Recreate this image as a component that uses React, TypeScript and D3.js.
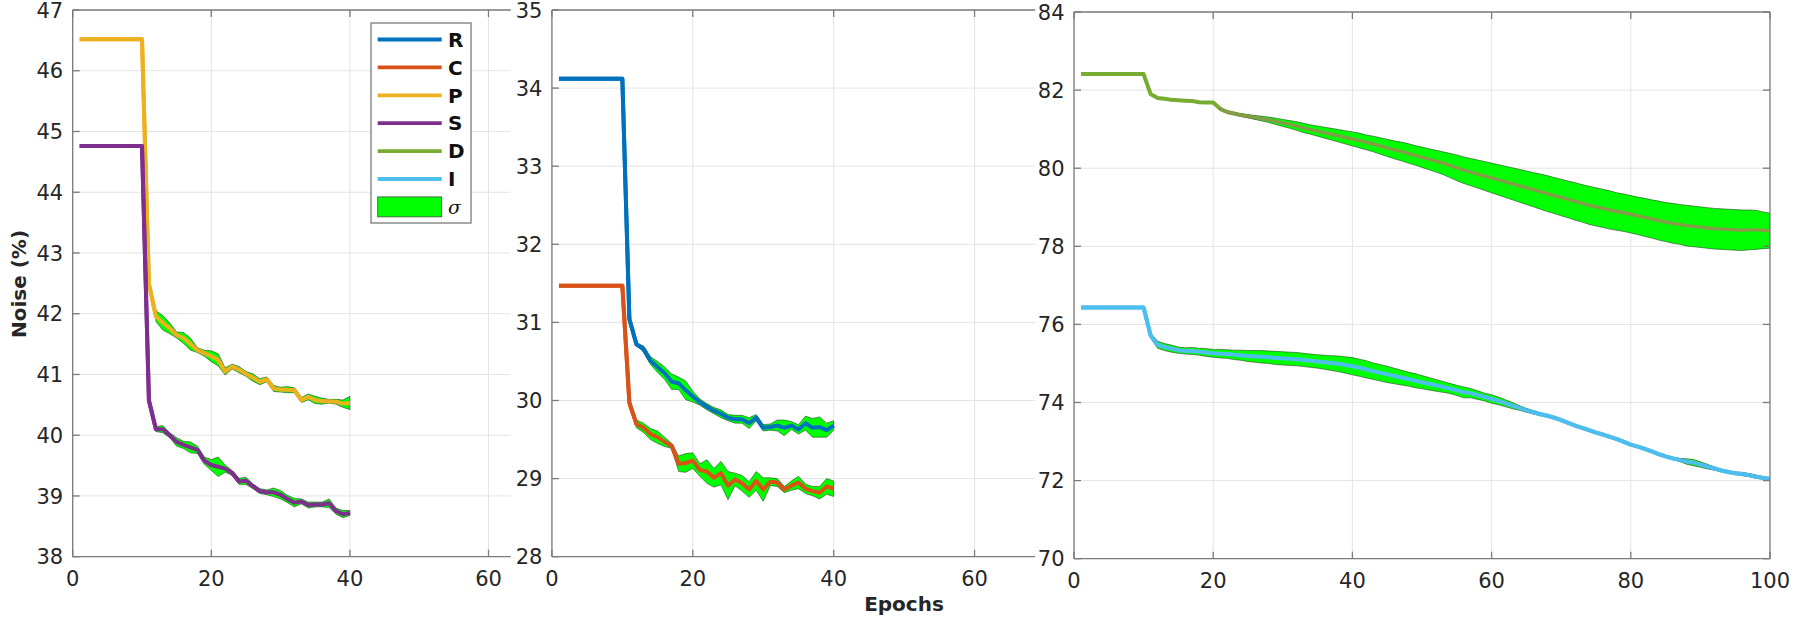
import * as React from "react";
import * as d3 from "d3";

// ---- data ----
const seriesKeys = ["R", "C", "P", "S", "D", "I"] as const;
const colors: Record<string, string> = {
	R: "#0072BD",
	C: "#D95319",
	P: "#EDB120",
	S: "#7E2F8E",
	D: "#77AC30",
	I: "#4DBEEE",
};

// panel 1 (epochs 1..40)
const pMean = [
	46.52, 46.52, 46.52, 46.52, 46.52, 46.52, 46.52, 46.52, 46.52, 46.52,
	42.49, 41.96, 41.85, 41.76, 41.65, 41.6, 41.5, 41.4, 41.35, 41.3,
	41.24, 41.05, 41.13, 41.08, 41.01, 40.95, 40.88, 40.92, 40.77, 40.75,
	40.75, 40.74, 40.58, 40.63, 40.58, 40.56, 40.56, 40.55, 40.52, 40.53,
];
const pStd = [
	0, 0, 0, 0, 0, 0, 0, 0, 0, 0,
	0, 0.09, 0.12, 0.09, 0.05, 0.09, 0.1, 0.04, 0.05, 0.09,
	0.1, 0.06, 0.04, 0.05, 0.04, 0.06, 0.05, 0.04, 0.05, 0.04,
	0.05, 0.04, 0.04, 0.05, 0.06, 0.05, 0.03, 0.04, 0.06, 0.11,
];
const sMean = [
	44.76, 44.76, 44.76, 44.76, 44.76, 44.76, 44.76, 44.76, 44.76, 44.76,
	40.57, 40.1, 40.1, 40.0, 39.89, 39.84, 39.8, 39.76, 39.58, 39.51,
	39.48, 39.45, 39.38, 39.24, 39.25, 39.16, 39.08, 39.06, 39.06, 39.02,
	38.95, 38.89, 38.91, 38.85, 38.86, 38.86, 38.88, 38.75, 38.7, 38.72,
];
const sStd = [
	0, 0, 0, 0, 0, 0, 0, 0, 0, 0,
	0, 0.04, 0.06, 0.04, 0.07, 0.06, 0.09, 0.06, 0.06, 0.09,
	0.16, 0.06, 0.04, 0.05, 0.06, 0.04, 0.04, 0.04, 0.07, 0.07,
	0.06, 0.07, 0.04, 0.05, 0.04, 0.04, 0.07, 0.05, 0.06, 0.04,
];

// panel 2 (epochs 1..40)
const rMean = [
	34.12, 34.12, 34.12, 34.12, 34.12, 34.12, 34.12, 34.12, 34.12, 34.12,
	31.04, 30.72, 30.66, 30.51, 30.43, 30.35, 30.24, 30.22, 30.13, 30.05,
	29.98, 29.92, 29.87, 29.83, 29.78, 29.76, 29.76, 29.71, 29.78, 29.65,
	29.66, 29.68, 29.65, 29.68, 29.63, 29.71, 29.65, 29.66, 29.62, 29.68,
];
const rStd = [
	0, 0, 0, 0, 0, 0, 0, 0, 0, 0,
	0, 0.01, 0.04, 0.05, 0.07, 0.08, 0.1, 0.08, 0.12, 0.07,
	0.04, 0.04, 0.04, 0.05, 0.04, 0.05, 0.05, 0.07, 0.04, 0.04,
	0.04, 0.07, 0.1, 0.05, 0.06, 0.09, 0.12, 0.13, 0.09, 0.06,
];
const cMean = [
	31.47, 31.47, 31.47, 31.47, 31.47, 31.47, 31.47, 31.47, 31.47, 31.47,
	29.97, 29.7, 29.65, 29.57, 29.53, 29.47, 29.42, 29.19, 29.2, 29.23,
	29.11, 29.09, 29.01, 29.07, 28.91, 28.99, 28.94, 28.86, 28.97, 28.86,
	28.96, 28.95, 28.86, 28.91, 28.95, 28.87, 28.84, 28.82, 28.9, 28.87,
];
const cStd = [
	0, 0, 0, 0, 0, 0, 0, 0, 0, 0,
	0.04, 0.05, 0.06, 0.07, 0.08, 0.06, 0.03, 0.1, 0.12, 0.1,
	0.08, 0.15, 0.12, 0.15, 0.18, 0.08, 0.1, 0.1, 0.12, 0.15,
	0.05, 0.05, 0.04, 0.06, 0.08, 0.06, 0.06, 0.08, 0.1, 0.1,
];

// panel 3 (epochs 1..100)
const dMean = [
	82.41, 82.41, 82.41, 82.41, 82.41, 82.41, 82.41, 82.41, 82.41, 82.41,
	81.9, 81.8, 81.78, 81.75, 81.74, 81.73, 81.72, 81.69, 81.68, 81.68,
	81.52, 81.44, 81.4, 81.36, 81.33, 81.3, 81.27, 81.24, 81.2, 81.16,
	81.12, 81.08, 81.03, 80.99, 80.95, 80.91, 80.87, 80.83, 80.79, 80.75,
	80.71, 80.66, 80.62, 80.57, 80.52, 80.47, 80.43, 80.38, 80.33, 80.28,
	80.23, 80.18, 80.13, 80.07, 80.01, 79.95, 79.9, 79.85, 79.8, 79.75,
	79.7, 79.65, 79.6, 79.55, 79.5, 79.45, 79.4, 79.35, 79.3, 79.25,
	79.2, 79.15, 79.1, 79.05, 79.01, 78.97, 78.93, 78.89, 78.86, 78.82,
	78.78, 78.74, 78.7, 78.66, 78.62, 78.59, 78.56, 78.53, 78.51, 78.49,
	78.47, 78.45, 78.44, 78.43, 78.42, 78.41, 78.42, 78.42, 78.41, 78.4,
];
const dStd = [
	0, 0, 0, 0, 0, 0, 0, 0, 0, 0,
	0, 0, 0, 0, 0, 0, 0, 0, 0, 0,
	0.01, 0.02, 0.02, 0.03, 0.04, 0.05, 0.06, 0.07, 0.08, 0.09,
	0.1, 0.11, 0.12, 0.12, 0.13, 0.14, 0.15, 0.16, 0.17, 0.18,
	0.19, 0.19, 0.2, 0.21, 0.22, 0.23, 0.24, 0.25, 0.25, 0.26,
	0.27, 0.28, 0.29, 0.31, 0.33, 0.34, 0.35, 0.36, 0.37, 0.38,
	0.39, 0.4, 0.41, 0.42, 0.43, 0.44, 0.45, 0.46, 0.46, 0.47,
	0.47, 0.48, 0.48, 0.49, 0.49, 0.49, 0.49, 0.48, 0.48, 0.48,
	0.48, 0.49, 0.49, 0.5, 0.5, 0.51, 0.51, 0.52, 0.52, 0.52,
	0.52, 0.52, 0.52, 0.52, 0.52, 0.52, 0.51, 0.5, 0.47, 0.45,
];
const iMean = [
	76.43, 76.43, 76.43, 76.43, 76.43, 76.43, 76.43, 76.43, 76.43, 76.43,
	75.72, 75.48, 75.42, 75.38, 75.34, 75.32, 75.32, 75.3, 75.28, 75.26,
	75.25, 75.24, 75.22, 75.21, 75.19, 75.18, 75.17, 75.16, 75.14, 75.13,
	75.12, 75.11, 75.09, 75.07, 75.05, 75.03, 75.01, 74.99, 74.96, 74.93,
	74.89, 74.85, 74.8, 74.76, 74.72, 74.68, 74.64, 74.6, 74.56, 74.52,
	74.48, 74.44, 74.4, 74.36, 74.31, 74.26, 74.24, 74.19, 74.14, 74.09,
	74.04, 73.98, 73.92, 73.86, 73.8, 73.75, 73.7, 73.66, 73.61, 73.55,
	73.48, 73.41, 73.35, 73.29, 73.23, 73.18, 73.12, 73.06, 72.99, 72.92,
	72.87, 72.81, 72.75, 72.68, 72.62, 72.57, 72.53, 72.49, 72.46, 72.41,
	72.36, 72.31, 72.26, 72.22, 72.19, 72.17, 72.14, 72.1, 72.07, 72.05,
];
const iStd = [
	0, 0, 0, 0, 0, 0, 0, 0, 0, 0,
	0.06, 0.09, 0.09, 0.09, 0.08, 0.08, 0.09, 0.09, 0.1, 0.1,
	0.11, 0.11, 0.12, 0.13, 0.14, 0.15, 0.16, 0.16, 0.17, 0.17,
	0.17, 0.17, 0.17, 0.17, 0.17, 0.18, 0.19, 0.2, 0.21, 0.22,
	0.22, 0.22, 0.21, 0.21, 0.21, 0.2, 0.19, 0.18, 0.18, 0.17,
	0.16, 0.15, 0.14, 0.13, 0.13, 0.14, 0.12, 0.11, 0.1, 0.11,
	0.1, 0.09, 0.08, 0.06, 0.05, 0.04, 0.03, 0.02, 0.02, 0.02,
	0.02, 0.02, 0.03, 0.03, 0.02, 0.02, 0.02, 0.02, 0.03, 0.03,
	0.02, 0.02, 0.02, 0.02, 0.02, 0.03, 0.04, 0.07, 0.08, 0.07,
	0.06, 0.04, 0.03, 0.02, 0.02, 0.04, 0.04, 0.04, 0.03, 0.01,
];

const panel1Ticks = { x: [0, 20, 40, 60], y: [38, 39, 40, 41, 42, 43, 44, 45, 46, 47] };
const panel2Ticks = { x: [0, 20, 40, 60], y: [28, 29, 30, 31, 32, 33, 34, 35] };
const panel3Ticks = { x: [0, 20, 40, 60, 80, 100], y: [70, 72, 74, 76, 78, 80, 82, 84] };

const font = "'DejaVu Sans', sans-serif";
const textColor = "#262626";
const axisColor = "#7a7a7a";
const gridColor = "#e4e4e4";
const bandColor = "#00ff00";
const bandLineColor = "#849c48";

type Series = {
	key: string;
	mean: number[];
	std: number[];
	lineInBand?: string;
};

function Panel({
	id,
	left,
	right,
	clipRight,
	top,
	bottom,
	xMax,
	yDomain,
	ticks,
	boxRight,
	series,
}: {
	id: string;
	left: number;
	right: number;
	clipRight: number;
	top: number;
	bottom: number;
	xMax: number;
	yDomain: [number, number];
	ticks: { x: number[]; y: number[] };
	boxRight: boolean;
	series: Series[];
}) {
	const xScale = d3.scaleLinear([0, xMax], [left, right]);
	const yScale = d3.scaleLinear(yDomain, [bottom, top]);
	const tickLen = 7;
	const lineWidth = 4;

	const line = d3
		.line<number>()
		.x((_, i) => xScale(i + 1))
		.y((v) => yScale(v));

	const bandParts = (s: Series) => {
		const idx = s.std.map((v, i) => (v > 0 ? i : -1)).filter((i) => i >= 0);
		const area = d3
			.area<number>()
			.x((i) => xScale(i + 1))
			.y0((i) => yScale(s.mean[i] - s.std[i]))
			.y1((i) => yScale(s.mean[i] + s.std[i]));
		const inner = d3
			.line<number>()
			.x((i) => xScale(i + 1))
			.y((i) => yScale(s.mean[i]));
		return { area: area(idx) || "", inner: inner(idx) || "" };
	};

	return (
		<g>
			<defs>
				<clipPath id={`clip-${id}`}>
					<rect x={left} y={top} width={clipRight - left} height={bottom - top} />
				</clipPath>
			</defs>
			<rect x={left} y={top} width={clipRight - left} height={bottom - top} fill="white" />
			<g clipPath={`url(#clip-${id})`}>
				{ticks.y.map((t) => (
					<line key={`gy${t}`} x1={left} x2={clipRight} y1={yScale(t)} y2={yScale(t)} stroke={gridColor} strokeWidth={1} />
				))}
				{ticks.x.map((t) => (
					<line key={`gx${t}`} x1={xScale(t)} x2={xScale(t)} y1={top} y2={bottom} stroke={gridColor} strokeWidth={1} />
				))}
				{series.map((s) => {
					const b = bandParts(s);
					return (
						<g key={s.key}>
							<path d={line(s.mean) || ""} fill="none" stroke={colors[s.key]} strokeWidth={lineWidth} strokeLinejoin="round" />
							<path d={b.area} fill={bandColor} stroke="#1f3a1f" strokeWidth={0.7} strokeOpacity={0.8} />
							{s.lineInBand ? (
								<path d={b.inner} fill="none" stroke={s.lineInBand} strokeWidth={3.4} strokeLinejoin="round" />
							) : (
								<path d={line(s.mean) || ""} fill="none" stroke={colors[s.key]} strokeWidth={lineWidth} strokeLinejoin="round" />
							)}
						</g>
					);
				})}
			</g>
			{/* axes box */}
			<g stroke={axisColor} strokeWidth={1.3} fill="none">
				<line x1={left} x2={clipRight} y1={bottom} y2={bottom} />
				<line x1={left} x2={clipRight} y1={top} y2={top} />
				<line x1={left} x2={left} y1={top} y2={bottom} />
				{boxRight && <line x1={clipRight} x2={clipRight} y1={top} y2={bottom} />}
				{ticks.x
					.filter((t) => xScale(t) <= clipRight)
					.map((t) => (
						<g key={`tx${t}`}>
							<line x1={xScale(t)} x2={xScale(t)} y1={bottom} y2={bottom - tickLen} />
							<line x1={xScale(t)} x2={xScale(t)} y1={top} y2={top + tickLen} />
						</g>
					))}
				{ticks.y.map((t) => (
					<g key={`ty${t}`}>
						<line x1={left} x2={left + tickLen} y1={yScale(t)} y2={yScale(t)} />
						{boxRight && <line x1={clipRight} x2={clipRight - tickLen} y1={yScale(t)} y2={yScale(t)} />}
					</g>
				))}
			</g>
			<g fontFamily={font} fontSize={21} fill={textColor}>
				{ticks.x
					.filter((t) => xScale(t) <= clipRight + 1)
					.map((t) => (
						<text key={`lx${t}`} x={xScale(t)} y={bottom + 29} textAnchor="middle">
							{t}
						</text>
					))}
				{ticks.y.map((t) => (
					<text key={`ly${t}`} x={left - 9.5} y={yScale(t)} dy="0.36em" textAnchor="end">
						{t}
					</text>
				))}
			</g>
		</g>
	);
}

function Legend({ x, y }: { x: number; y: number }) {
	const rowH = 27.9;
	return (
		<g transform={`translate(${x} ${y})`}>
			<rect x={0} y={0} width={100} height={200} fill="white" stroke={axisColor} strokeWidth={1.3} />
			{seriesKeys.map((k, i) => (
				<g key={k} transform={`translate(0 ${16.5 + rowH * i})`}>
					<line x1={6.7} x2={70.7} y1={0} y2={0} stroke={colors[k]} strokeWidth={3.8} />
					<text x={77} y={0} dy="0.36em" fontFamily={font} fontWeight="bold" fontSize={20} fill="#111">
						{k}
					</text>
				</g>
			))}
			<g transform={`translate(0 ${16.5 + rowH * 6})`}>
				<rect x={6.7} y={-10} width={64} height={20} fill={bandColor} stroke="#3a3a3a" strokeWidth={0.7} />
				<text x={77} y={0} dy="0.36em" fontFamily="'DejaVu Serif', serif" fontStyle="italic" fontSize={19} fill="#111">
					σ
				</text>
			</g>
		</g>
	);
}

export default function App() {
	const width = 1806;
	const height = 619;
	return (
		<svg
			width={width}
			height={height}
			viewBox={`0 0 ${width} ${height}`}
			style={{ position: "absolute", left: 0, top: 0, background: "white" }}
		>
			<rect width={width} height={height} fill="white" />
			<Panel
				id="p1"
				left={72.7}
				right={557.8}
				clipRight={510.7}
				top={10}
				bottom={556.7}
				xMax={70}
				yDomain={[38, 47]}
				ticks={panel1Ticks}
				boxRight={false}
				series={[
					{ key: "P", mean: pMean, std: pStd },
					{ key: "S", mean: sMean, std: sStd },
				]}
			/>
			<Panel
				id="p2"
				left={551.9}
				right={1045}
				clipRight={1035}
				top={10}
				bottom={556.7}
				xMax={70}
				yDomain={[28, 35]}
				ticks={panel2Ticks}
				boxRight={false}
				series={[
					{ key: "R", mean: rMean, std: rStd },
					{ key: "C", mean: cMean, std: cStd },
				]}
			/>
			<Panel
				id="p3"
				left={1074}
				right={1770}
				clipRight={1770}
				top={12}
				bottom={558.7}
				xMax={100}
				yDomain={[70, 84]}
				ticks={panel3Ticks}
				boxRight={true}
				series={[
					{ key: "D", mean: dMean, std: dStd, lineInBand: bandLineColor },
					{ key: "I", mean: iMean, std: iStd },
				]}
			/>
			<Legend x={371} y={23} />
			<text
				transform={`translate(19 284) rotate(-90)`}
				textAnchor="middle"
				dy="0.36em"
				fontFamily={font}
				fontWeight="bold"
				fontSize={20}
				fill={textColor}
			>
				Noise (%)
			</text>
			<text x={904} y={611} textAnchor="middle" fontFamily={font} fontWeight="bold" fontSize={20} fill={textColor}>
				Epochs
			</text>
		</svg>
	);
}
